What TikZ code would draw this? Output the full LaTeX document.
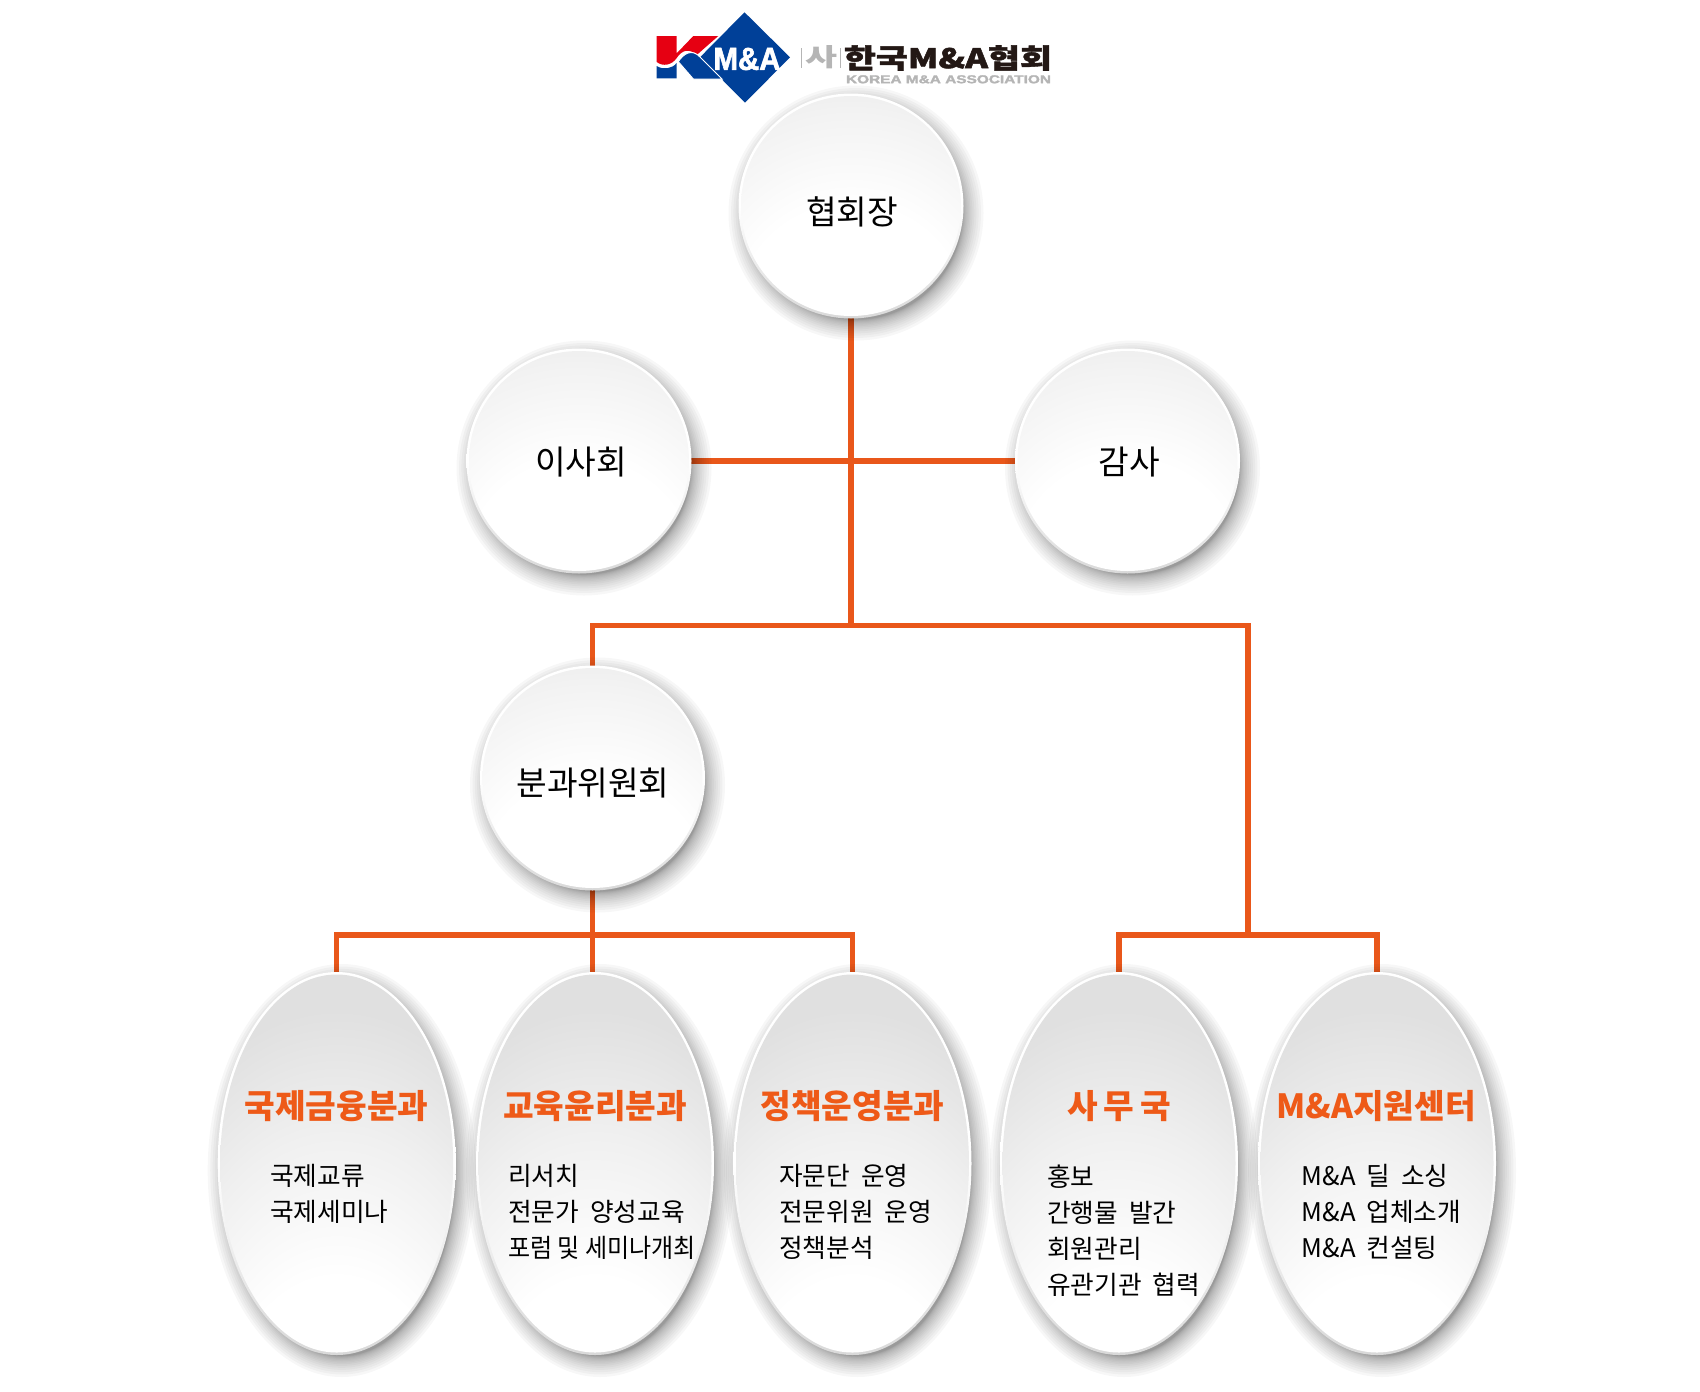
\documentclass[tikz,border=0pt]{standalone}
\usepackage{fontspec}
\usepackage{graphicx}
\setmainfont{Noto Sans CJK KR}
\newfontfamily\latinbold{Liberation Sans}
\newfontfamily\latinheavy[BoldFeatures={FakeBold=2}]{Liberation Sans}
\newfontfamily\cjkheavy[BoldFeatures={FakeBold=1.5}]{Noto Sans CJK KR}
\usetikzlibrary{shapes.geometric}
\definecolor{linkorange}{HTML}{E9571A}
\definecolor{titleorange}{HTML}{EE5A18}
\definecolor{logoblue}{HTML}{004098}
\definecolor{logored}{HTML}{E60012}
\definecolor{logodark}{HTML}{231815}
\definecolor{logogray}{HTML}{B5B5B5}
\pgfdeclarelayer{lines}
\pgfdeclarelayer{halo}
\pgfsetlayers{lines,halo,main}
\pgfdeclareradialshading{circleglow}{\pgfpoint{0bp}{-35bp}}{
  color(0bp)=(white); color(26bp)=(white); color(42bp)=(black!5); color(56bp)=(black!11); color(100bp)=(black!11)}
\pgfdeclareradialshading{ovalglow}{\pgfpoint{0bp}{-60bp}}{
  color(0bp)=(white); color(28bp)=(white); color(40bp)=(black!6); color(50bp)=(black!12); color(100bp)=(black!12)}
\newcommand{\softhalo}[4]{%
  \begin{pgfonlayer}{halo}
    \foreach \k in {0,...,15}{
      \pgfmathsetmacro{\grow}{21*(1-\k/16)*(1-\k/16)-6}
      \fill[black,opacity=.03] ({#1+5},{#2+7}) ellipse [x radius={#3+\grow}, y radius={#4+\grow}];
    }
    \path[top color=white, bottom color=black!15, middle color=white] (#1,#2) ellipse [x radius=#3, y radius=#4];
  \end{pgfonlayer}}
\newcommand{\gap}{\hspace{11pt}}
\tikzset{
  x=1pt,y=-1pt,
  roundbox/.style={circle,inner sep=0pt,outer sep=0pt,minimum size=220pt,shade,shading=circleglow},
  ovalbox/.style={ellipse,inner sep=0pt,outer sep=0pt,minimum width=233pt,minimum height=378pt,shade,shading=ovalglow},
  roundtext/.style={font=\fontsize{33.3}{36}\selectfont,text=black,inner sep=0pt},
  ovaltitle/.style={font=\fontsize{33.3}{36}\bfseries\selectfont,text=titleorange,inner sep=0pt},
  ovalbody/.style={font=\fontsize{25.7}{36}\selectfont,text=black,inner sep=0pt,anchor=north west,align=left},
  link/.style={draw=linkorange,line width=5.2pt},
}
\begin{document}
\begin{tikzpicture}
\useasboundingbox (0,0) rectangle (1700,1392);

% logo
\fill[logoblue] (744.5,12.3) -- (790,57.3) -- (745,102.7) -- (700,57.3) -- cycle;
\fill[logored] (656.7,36) -- (676.7,36) -- (676.7,53.3) -- (693.3,36) -- (718.3,36) -- (696.7,55)
  .. controls (689,48) and (682,50) .. (676.7,58) .. controls (672,65) and (663,67) .. (656.7,62) -- cycle;
\fill[logoblue] (656.7,66) .. controls (663,70) and (672,69) .. (676.7,63) -- (676.7,78.3) -- (656.7,78.3) -- cycle;
\fill[logoblue,draw=white,line width=1pt] (678.3,61.7) .. controls (683,54) and (692,48) .. (700,57) -- (722,79) -- (693.3,79) -- cycle;
\node[inner sep=0pt,text=white] (logoMA) at (747,59) {\resizebox{67pt}{22pt}{\latinheavy\bfseries M\&A}};
\node[inner sep=0pt,text=logogray] (logoSa) at (821,57.5) {\resizebox{32pt}{21pt}{\bfseries 사}};
\fill[logogray] (801.3,47.5) rectangle (802.3,68);
\fill[logogray] (839.5,47.5) rectangle (840.5,68);
\node[inner sep=0pt,text=logodark] (logoName) at (948,58) {\resizebox{208pt}{23pt}{\cjkheavy\bfseries 한국M\&A협회}};
\node[inner sep=0pt,text=logogray] (logoEng) at (948.5,79.3) {\resizebox{205pt}{8pt}{\latinheavy\bfseries KOREA M\&A ASSOCIATION}};

% circles
\softhalo{851}{206}{112.5}{112.5}
\softhalo{579}{461}{112.5}{112.5}
\softhalo{1127.5}{461}{112.5}{112.5}
\softhalo{592.5}{778}{112.5}{112.5}
\node[roundbox] (president) at (851,206) {};
\node[roundbox] (board) at (579,461) {};
\node[roundbox] (audit) at (1127.5,461) {};
\node[roundbox] (committee) at (592.5,778) {};
\node[roundtext] (presidentT) at (852,212) {협회장};
\node[roundtext] (boardT) at (581,462) {이사회};
\node[roundtext] (auditT) at (1129,462) {감사};
\node[roundtext] (committeeT) at (593,783) {분과위원회};

% ovals
\softhalo{336.7}{1163.5}{119}{191.5}
\softhalo{595}{1163.5}{119}{191.5}
\softhalo{852.5}{1163.5}{119}{191.5}
\softhalo{1119}{1163.5}{119}{191.5}
\softhalo{1377}{1163.5}{119}{191.5}
\node[ovalbox] (intl) at (336.7,1163.5) {};
\node[ovalbox] (edu) at (595,1163.5) {};
\node[ovalbox] (policy) at (852.5,1163.5) {};
\node[ovalbox] (office) at (1119,1163.5) {};
\node[ovalbox] (support) at (1377,1163.5) {};

\node[ovaltitle] (intlT) at (336.5,1106) {국제금융분과};
\node[ovaltitle] (eduT) at (595,1106) {교육윤리분과};
\node[ovaltitle] (policyT) at (852.5,1106) {정책운영분과};
\node[ovaltitle] (officeT) at (1119,1106) {사\hspace{6pt}무\hspace{6pt}국};
\node[ovaltitle] (supportT) at (1376,1106) {M\&A지원센터};

\node[ovalbody] (intlB) at (270,1164.5) {국제교류\\국제세미나};
\node[ovalbody] (eduB) at (508,1164.5) {리서치\\전문가\gap 양성교육\\\scalebox{.935}[1]{포럼 및 세미나개최}};
\node[ovalbody] (policyB) at (779,1164.5) {자문단\gap 운영\\전문위원\gap 운영\\정책분석};
\node[ovalbody] (officeB) at (1047,1164.5) {홍보\\간행물\gap 발간\\회원관리\\유관기관\gap 협력};
\node[ovalbody] (supportB) at (1301.5,1164.5) {M\&A\gap 딜\gap 소싱\\M\&A\gap 업체소개\\M\&A\gap 컨설팅};

% connectors
\coordinate (midbus) at (851,625.5);
\coordinate (leftdrop) at (592.5,625.5);
\coordinate (rightdrop) at (1248,625.5);
\coordinate (rightbus) at (1248,935);
\coordinate (committeebus) at (592.5,935);
\begin{pgfonlayer}{lines}
  \draw[link] (president.south) -- (midbus);
  \draw[link] (board.east) -- (audit.west);
  \draw[link] (committee.north) -- (leftdrop) -- (rightdrop) -- (rightbus);
  \draw[link] (committee.south) -- (committeebus);
  \draw[link] (committeebus) -- (committeebus |- edu.north);
  \draw[link] (intl.north) |- (committeebus) -| (policy.north);
  \draw[link] (office.north) |- (rightbus) -| (support.north);
\end{pgfonlayer}
\end{tikzpicture}
\end{document}
